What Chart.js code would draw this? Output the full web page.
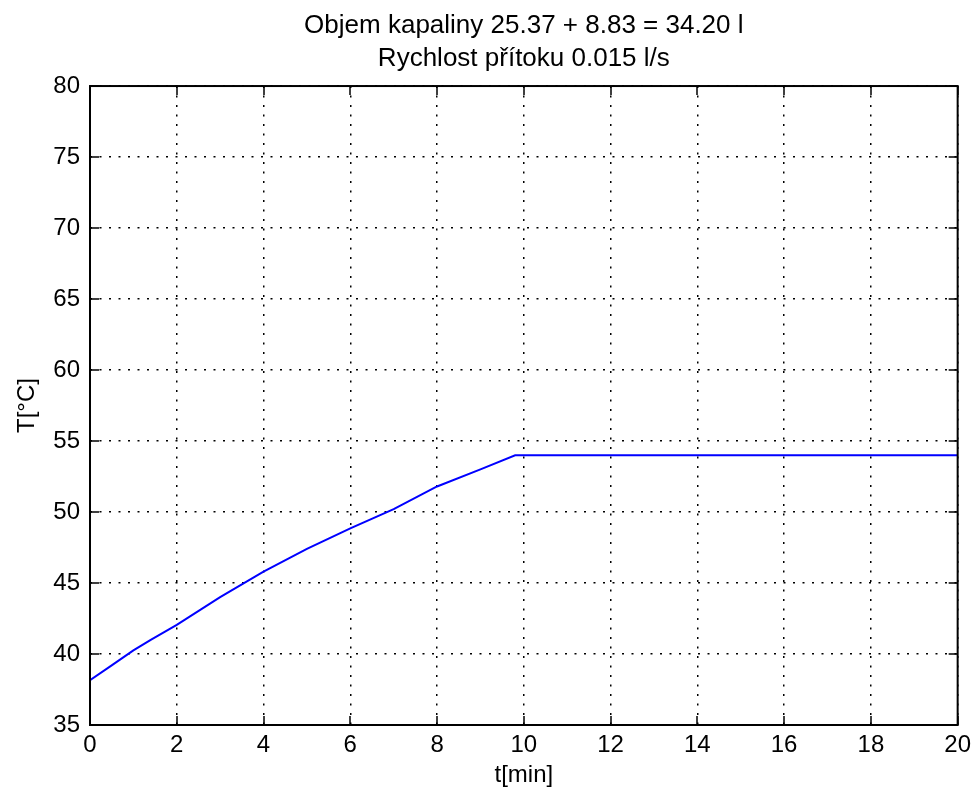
<!DOCTYPE html>
<html>
<head>
<meta charset="utf-8">
<script src="https://cdn.jsdelivr.net/npm/chart.js@4.4.1/dist/chart.umd.min.js"></script>
<style>
  html, body { margin: 0; padding: 0; background: #fff; }
  #wrap { width: 977px; height: 796px; }
</style>
</head>
<body>
<div id="wrap"><canvas id="tempChart" width="977" height="796"></canvas></div>
<script>
// time in minutes and liquid temperature in degC
const timeMin = [0, 0.5, 1, 1.4, 2, 3, 4, 5, 6, 7, 8, 9, 9.8, 20];
const tempC = [38.15, 39.2, 40.25, 41.0, 42.05, 44.0, 45.8, 47.4, 48.85, 50.2, 51.8, 53.0, 54.0, 54.0];

const xTicks = [0, 2, 4, 6, 8, 10, 12, 14, 16, 18, 20];
const yTicks = [35, 40, 45, 50, 55, 60, 65, 70, 75, 80];

const titleLines = ['Objem kapaliny 25.37 + 8.83 = 34.20 l', 'Rychlost přítoku 0.015 l/s'];

const FONT = 'Liberation Sans';
const SIZE = 24;

// axes box with inward tick marks on all four sides
const boxPlugin = {
  id: 'axesBox',
  afterDatasetsDraw(chart) {
    const { ctx, chartArea: a, scales } = chart;
    const len = 9;
    ctx.save();
    ctx.setLineDash([]);
    ctx.strokeStyle = '#000';
    ctx.lineWidth = 1.5;
    ctx.beginPath();
    xTicks.forEach(v => {
      const px = Math.round(scales.x.getPixelForValue(v));
      ctx.moveTo(px, a.bottom); ctx.lineTo(px, a.bottom - len);
      ctx.moveTo(px, a.top); ctx.lineTo(px, a.top + len);
    });
    yTicks.forEach(v => {
      const py = Math.round(scales.y.getPixelForValue(v));
      ctx.moveTo(a.left, py); ctx.lineTo(a.left + len, py);
      ctx.moveTo(a.right, py); ctx.lineTo(a.right - len, py);
    });
    ctx.stroke();
    ctx.lineWidth = 2;
    ctx.strokeRect(a.left, a.top, a.right - a.left, a.bottom - a.top);
    ctx.restore();
  }
};

const gridOpts = { color: '#000', lineWidth: 1.5, drawTicks: false };
const dotted = { display: false, dash: [2, 7.5] };

new Chart(document.getElementById('tempChart').getContext('2d'), {
  type: 'line',
  data: {
    datasets: [{
      data: timeMin.map((t, i) => ({ x: t, y: tempC[i] })),
      borderColor: '#0000ff',
      borderWidth: 2,
      pointRadius: 0,
      tension: 0,
      fill: false
    }]
  },
  options: {
    responsive: false,
    animation: false,
    layout: { padding: { left: 0, right: 15, top: 0, bottom: 0 } },
    plugins: {
      legend: { display: false },
      tooltip: { enabled: false },
      title: {
        display: true,
        fullSize: false,
        text: titleLines,
        color: '#000',
        font: { family: FONT, size: 26, weight: 'normal', lineHeight: 1.27 },
        padding: { top: 9, bottom: 11 }
      }
    },
    scales: {
      x: {
        type: 'linear',
        min: 0, max: 20,
        afterBuildTicks: s => { s.ticks = xTicks.map(v => ({ value: v })); },
        afterFit: s => { s.height = 71; },
        grid: gridOpts,
        border: dotted,
        ticks: { color: '#000', padding: 6, maxRotation: 0, font: { family: FONT, size: SIZE } },
        title: { display: true, text: 't[min]', color: '#000', padding: { top: 0, bottom: 6 }, font: { family: FONT, size: SIZE } }
      },
      y: {
        min: 35, max: 80,
        afterBuildTicks: s => { s.ticks = yTicks.map(v => ({ value: v })); },
        afterFit: s => { s.width = 90; },
        grid: gridOpts,
        border: dotted,
        ticks: { color: '#000', padding: 10, font: { family: FONT, size: SIZE } },
        title: { display: true, text: 'T[°C]', color: '#000', padding: { top: 13, bottom: 0 }, font: { family: FONT, size: SIZE } }
      }
    }
  },
  plugins: [boxPlugin]
});
</script>
</body>
</html>
